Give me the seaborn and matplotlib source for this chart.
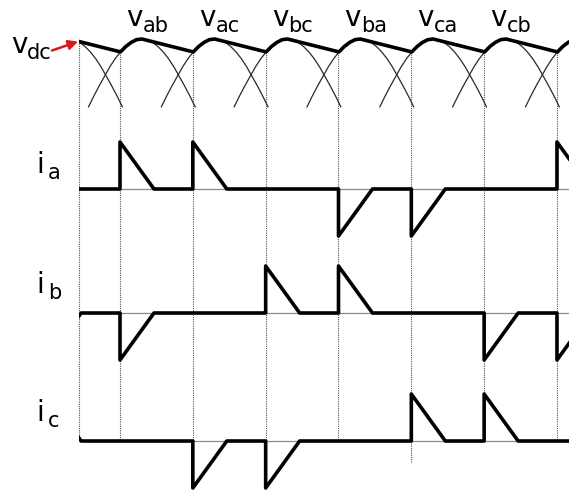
import matplotlib
matplotlib.use("Agg")

import matplotlib.pyplot as plt
import numpy as np
import pandas as pd
import seaborn as sns
from matplotlib.patches import Rectangle

sns.set_theme(style="white")
plt.rcParams["text.color"] = "black"

# commutation instants (electrical degrees) and start of the traces
COMM_DEG = [0, 60, 120, 180, 240, 300, 360]
T_START = -34

# line-voltage arcs: peak positions and one arc profile (offset from peak, relative height)
ARC_PEAKS = [-42, 18, 78, 138, 198, 258, 318, 378]
ARC_OFFSET = [-44, -39.6, -35.2, -30.8, -26.4, -22, -17.6, -13.2, -8.8, -4.4, 0,
              4.4, 8.8, 13.2, 17.6, 22, 26.4, 30.8, 35.2, 39.6, 44]
ARC_HEIGHT = [0, 0.16, 0.31, 0.45, 0.59, 0.71, 0.81, 0.89, 0.95, 0.99, 1.0,
              0.99, 0.95, 0.89, 0.81, 0.71, 0.59, 0.45, 0.31, 0.16, 0]
V_LABELS = ["ab", "ac", "bc", "ba", "ca", "cb"]

# phase currents: jump at commutation then linear decay back to zero
RAMP_DEG = 28
I_NAMES = ["a", "b", "c"]
I_POS = [[0, 60, 360], [120, 180], [-60, 240, 300]]
I_NEG = [[180, 240], [-60, 0, 300, 360], [60, 120]]

# layout (canvas in pixels, y down)
W, H = 569, 491
X0, PX_PER_DEG = 120, 72.83 / 60
ARC_BASE, ARC_H = 107, 68
I_BASE = [189, 313, 441]
I_AMP = 47
LONG_DOT = {240: 463}


def arc_y(h):
    return ARC_BASE - ARC_H * np.asarray(h)


def pulse_trace(pos, neg):
    events = sorted([(c, 1) for c in pos] + [(c, -1) for c in neg])
    xs, ys = [-100], [0]
    for c, s in events:
        xs += [c, c, c + RAMP_DEG]
        ys += [0, s, 0]
    xs.append(400)
    ys.append(0)
    return pd.DataFrame({"deg": xs, "val": ys})


fig = plt.figure(figsize=(W / 100, H / 100), dpi=100)
ax = fig.add_axes([0, 0, 1, 1])
ax.set_xlim(-X0 / PX_PER_DEG, (W - X0) / PX_PER_DEG)
ax.set_ylim(H, 0)
ax.axis("off")

clip = Rectangle((T_START, 0), 1000, H, transform=ax.transData, visible=False)
ax.add_patch(clip)


def draw(df, y, **kw):
    sns.lineplot(data=df, x="deg", y=y, ax=ax, sort=False, estimator=None,
                 legend=False, **kw)
    ax.lines[-1].set_clip_path(clip)


# thin arcs
for p in ARC_PEAKS:
    arc = pd.DataFrame({"deg": p + np.array(ARC_OFFSET), "y": arc_y(ARC_HEIGHT)})
    draw(arc, "y", color="#2a2a2a", linewidth=0.9)

# dc envelope: follows the rising part of each arc, then falls to the next commutation
env_x, env_h = [], []
for p in ARC_PEAKS:
    env_x += [p + o for o in ARC_OFFSET[6:11]]
    env_h += ARC_HEIGHT[6:11]
env = pd.DataFrame({"deg": env_x, "y": arc_y(env_h)})

# dotted vertical guides
for t in [T_START] + COMM_DEG:
    top = np.interp(t, env["deg"], env["y"])
    ax.vlines(t, top, LONG_DOT.get(t, I_BASE[-1]), colors="#555555",
              linestyles=(0, (1, 1)), linewidth=0.8, zorder=1)

draw(env, "y", color="black", linewidth=2.6)

# currents
for name, pos, neg, base in zip(I_NAMES, I_POS, I_NEG, I_BASE):
    ax.hlines(base, T_START, 400, colors="#8a8a8a", linewidth=0.9, zorder=1)
    df = pulse_trace(pos, neg)
    df["y"] = base - I_AMP * df["val"]
    draw(df, "y", color="black", linewidth=2.6)
    t = ax.text((36 - X0) / PX_PER_DEG, base - 16 - (4 if name != "a" else 0),
                "i", fontsize=20, ha="left", va="baseline", color="black")
    ax.annotate(name, xy=(1, 0), xycoords=t, xytext=(3, 0), color="black",
                textcoords="offset points", fontsize=15, va="baseline")

# voltage labels
for c, lab in zip(COMM_DEG, V_LABELS):
    t = ax.text(c + 5, 26, "v", fontsize=20, ha="left", va="baseline", color="black")
    ax.annotate(lab, xy=(1, 0), xycoords=t, xytext=(0, 0), color="black",
                textcoords="offset points", fontsize=15, va="baseline")

t = ax.text((11 - X0) / PX_PER_DEG, 53, "v", fontsize=20, ha="left", va="baseline",
            color="black")
ax.annotate("dc", xy=(1, 0), xycoords=t, xytext=(0, 0), color="black",
            textcoords="offset points", fontsize=15, va="baseline")
ax.annotate("", xy=(T_START - 0.5, 41.5), xytext=((52 - X0) / PX_PER_DEG, 50.5),
            arrowprops=dict(arrowstyle="-|>", color="#d7191c", linewidth=1.8,
                            mutation_scale=14, shrinkA=0, shrinkB=0))

fig.savefig("out.png", dpi=100)
